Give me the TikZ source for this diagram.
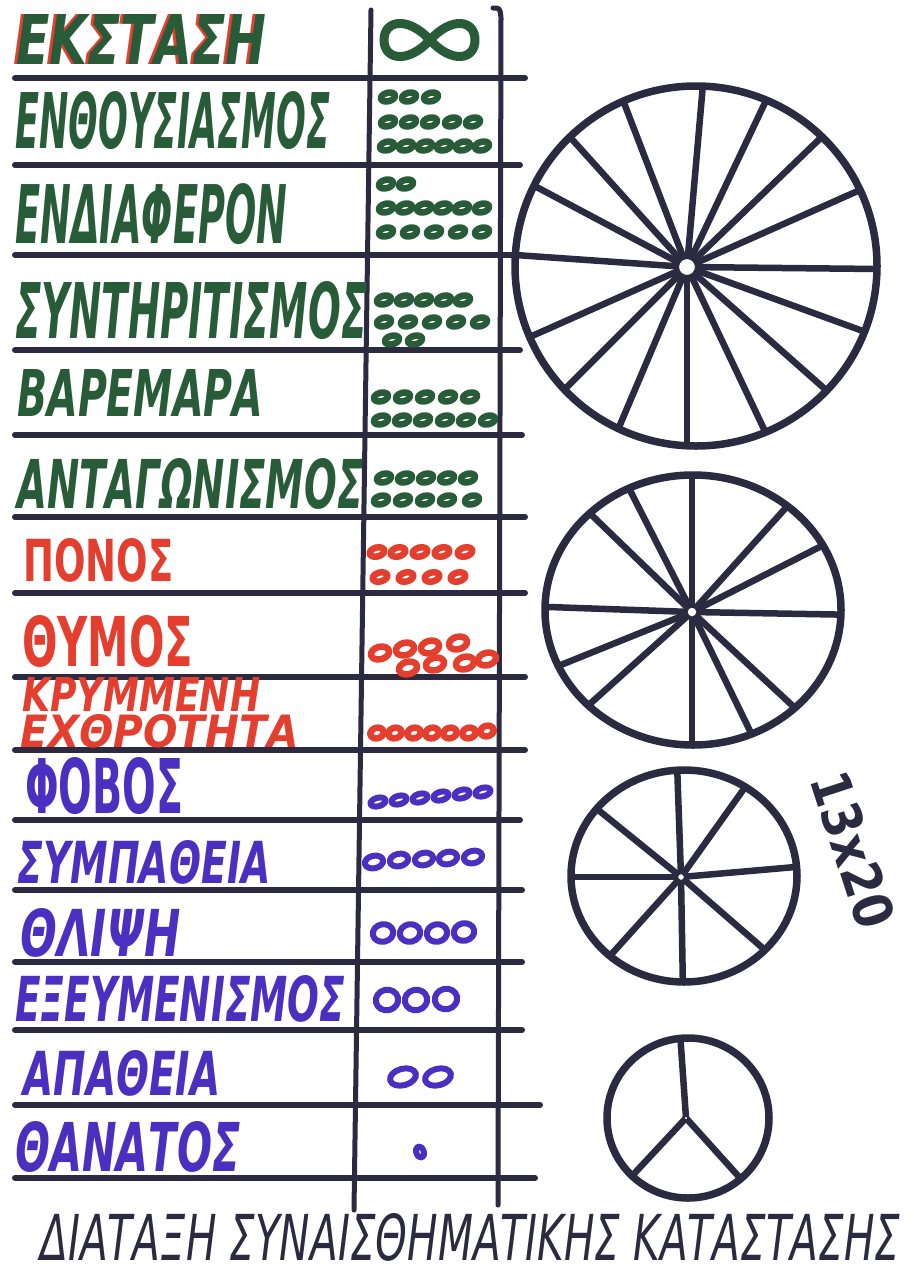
\documentclass[tikz,border=0pt]{standalone}
\usepackage{fontspec}
\usepackage{graphicx}
\setmainfont{DejaVu Sans}
\definecolor{ink}{RGB}{44,42,64}
\definecolor{mgreen}{RGB}{40,92,56}
\definecolor{mred}{RGB}{228,62,46}
\definecolor{mblue}{RGB}{74,48,192}
\begin{document}
\begin{tikzpicture}[x=0.2mm,y=-0.2mm,line cap=round,line join=round,
  rulel/.style={draw=ink,line width=1.2mm},
  vline/.style={draw=ink,line width=1mm},
  lab/.style={anchor=south west,inner sep=0pt,font=\bfseries},
  rim/.style={draw=ink,line width=1.5mm},
  spoke/.style={draw=ink,line width=1.3mm,line cap=butt},
  hub/.style={draw=ink,fill=white,line width=1.2pt},
  gov/.style={draw=mgreen,line width=1.3mm},
  rov/.style={draw=mred,line width=1.3mm},
  bov/.style={draw=mblue,line width=1.2mm}]
\fill[white] (0,0) rectangle (914,1270);
\useasboundingbox (0,0) rectangle (914,1270);

% horizontal rules
\foreach \yy/\xe in {78/525,165/520,255/520,350/520,435/522,517/525,593/525,677/525,750/525,820/520,890/522,962/522,1030/522,1105/540,1178/535}
  \draw[rulel] (15,\yy) -- (\xe,\yy);
% vertical rules
\draw[vline] (371,10) -- (354,1210);
\draw[vline] (493,8) .. controls (500,8) .. (501,18) -- (498,1205);

% labels
\node[lab,text=mred] (l1r) at (13,65) {\resizebox{50mm}{10mm}{\itshape ΕΚΣΤΑΣΗ}};
\node[lab,text=mgreen] (l1) at (16,65) {\resizebox{50mm}{10mm}{\itshape ΕΚΣΤΑΣΗ}};
\node[lab,text=mgreen] (l2) at (15,150) {\resizebox{63mm}{11.4mm}{\itshape ΕΝΘΟΥΣΙΑΣΜΟΣ}};
\node[lab,text=mgreen] (l3) at (15,245) {\resizebox{54.4mm}{12mm}{\itshape ΕΝΔΙΑΦΕΡΟΝ}};
\node[lab,text=mgreen] (l4) at (15,340) {\resizebox{70.4mm}{11.4mm}{\itshape ΣΥΝΤΗΡΙΤΙΣΜΟΣ}};
\node[lab,text=mgreen] (l5) at (17,417) {\resizebox{49.2mm}{9.4mm}{\itshape ΒΑΡΕΜΑΡΑ}};
\node[lab,text=mgreen] (l6) at (17,510) {\resizebox{69.2mm}{10mm}{\itshape ΑΝΤΑΓΩΝΙΣΜΟΣ}};
\node[lab,text=mred] (l7) at (23,583) {\resizebox{30mm}{8.6mm}{ΠΟΝΟΣ}};
\node[lab,text=mred] (l8) at (22,668) {\resizebox{34.2mm}{10.2mm}{ΘΥΜΟΣ}};
\node[lab,text=mred] (l9a) at (22,712) {\resizebox{47.6mm}{6.8mm}{\itshape ΚΡΥΜΜΕΝΗ}};
\node[lab,text=mred] (l9b) at (20,748) {\resizebox{55.6mm}{6.6mm}{\itshape ΕΧΘΡΟΤΗΤΑ}};
\node[lab,text=mblue] (l10) at (25,815) {\resizebox{31.6mm}{11.2mm}{ΦΟΒΟΣ}};
\node[lab,text=mblue] (l11) at (17,885) {\resizebox{50.6mm}{8.6mm}{\itshape ΣΥΜΠΑΘΕΙΑ}};
\node[lab,text=mblue] (l12) at (20,958) {\resizebox{32mm}{9.6mm}{\itshape ΘΛΙΨΗ}};
\node[lab,text=mblue] (l13) at (15,1023) {\resizebox{66mm}{9.2mm}{\itshape ΕΞΕΥΜΕΝΙΣΜΟΣ}};
\node[lab,text=mblue] (l14) at (23,1097) {\resizebox{39.4mm}{9mm}{\itshape ΑΠΑΘΕΙΑ}};
\node[lab,text=mblue] (l15) at (15,1173) {\resizebox{45mm}{10mm}{\itshape ΘΑΝΑΤΟΣ}};
\node[anchor=south west,inner sep=0pt,text=ink] (title) at (40,1262) {\resizebox{172mm}{9.4mm}{\itshape ΔΙΑΤΑΞΗ ΣΥΝΑΙΣΘΗΜΑΤΙΚΗΣ ΚΑΤΑΣΤΑΣΗΣ}};
\node[inner sep=0pt,text=ink,rotate=-72] (dims) at (853,850) {\resizebox{32mm}{8mm}{\bfseries 13x20}};

% infinity
\draw[mgreen,line width=1.8mm] (430,40) .. controls (452,16) and (475,20) .. (475,40)
  .. controls (475,60) and (452,64) .. (430,40)
  .. controls (408,16) and (384,20) .. (384,40)
  .. controls (384,60) and (408,64) .. (430,40);

% green ovals
\foreach \px/\py in {388/97,409/97,431/97,
  388/122,409/122,430/122,452/122,473/122,
  387/146,406/146,425/146,444/146,463/146,482/146,
  386/184,406/184,
  386/208,405/208,424/208,443/208,462/208,482/208,
  386/232,410/232,434/232,458/232,482/232,
  384/300,404/300,424/300,444/300,463/300,
  384/322,408/322,432/322,456/322,480/322,
  392/340,415/340,
  381/397,403/397,425/397,448/397,470/397,
  381/420,402/420,423/420,445/420,466/420,488/420,
  384/478,405/478,426/478,447/478,468/478,
  381/500,403/500,425/500,447/500,472/500}
  \draw[gov,shift={(\px,\py)},rotate=15] (0,0) ellipse [x radius=1.45mm,y radius=0.85mm];
% red ovals
\foreach \px/\py in {377/552,398/552,420/552,442/552,465/552,
  380/577,406/577,432/577,458/577}
  \draw[rov,shift={(\px,\py)},rotate=15] (0,0) ellipse [x radius=1.5mm,y radius=0.9mm];
\foreach \px/\py in {380/653,405/649,430/647,458/643,408/668,435/664,465/663,487/659}
  \draw[rov,shift={(\px,\py)},rotate=15] (0,0) ellipse [x radius=1.85mm,y radius=1.25mm];
\foreach \px/\py in {377/733,395/733,414/733,432/733,450/733,469/733,487/731}
  \draw[rov,shift={(\px,\py)},rotate=15] (0,0) ellipse [x radius=1.35mm,y radius=1.05mm];
% blue ovals
\foreach \px/\py in {378/802,399/800,420/798,441/796,462/794,483/792}
  \draw[bov,shift={(\px,\py)},rotate=15] (0,0) ellipse [x radius=1.55mm,y radius=0.85mm];
\foreach \px/\py in {374/862,399/860,424/859,448/858,473/857}
  \draw[bov,shift={(\px,\py)},rotate=12] (0,0) ellipse [x radius=1.85mm,y radius=1.25mm];
\foreach \px/\py in {383/933,410/933,437/933,464/932}
  \draw[bov,shift={(\px,\py)},rotate=12] (0,0) ellipse [x radius=2.05mm,y radius=1.75mm];
\foreach \px/\py in {387/1000,416/1000,446/999}
  \draw[bov,shift={(\px,\py)},rotate=12] (0,0) ellipse [x radius=2.25mm,y radius=2.05mm];
\foreach \px/\py in {403/1077,438/1077}
  \draw[bov,shift={(\px,\py)},rotate=15] (0,0) ellipse [x radius=2.65mm,y radius=1.65mm];
\draw[bov,shift={(420,1152)},rotate=20] (0,0) ellipse [x radius=0.75mm,y radius=1.15mm];

% wheel 1
\coordinate (c1) at (696,266);
\coordinate (h1) at (687,267);
\begin{scope}
  \clip (c1) ellipse [x radius=36.2mm,y radius=36mm];
  \foreach \a in {-85,-64.6,-44,-24,0.6,20,41.5,64.6,90,113,135,156,184,208,228,249}
    \draw[spoke] (h1) -- ++(\a:400);
\end{scope}
\draw[rim] (c1) ellipse [x radius=36.2mm,y radius=36mm];
\draw[hub] (h1) circle [radius=1.8mm];

% wheel 2
\coordinate (c2) at (693,610);
\coordinate (h2) at (692,612);
\begin{scope}
  \clip (c2) ellipse [x radius=29.6mm,y radius=27mm];
  \foreach \a in {-90,-48,-27,1,43,64,90,138,158,182,224,243}
    \draw[spoke] (h2) -- ++(\a:400);
\end{scope}
\draw[rim] (c2) ellipse [x radius=29.6mm,y radius=27mm];
\draw[hub] (h2) circle [radius=1.1mm];

% wheel 3
\coordinate (c3) at (684,876);
\coordinate (h3) at (681,877);
\begin{scope}
  \clip (c3) ellipse [x radius=22.6mm,y radius=21.2mm];
  \foreach \a in {-92,-54.5,-5,41,89,132,180,219}
    \draw[spoke] (h3) -- ++(\a:400);
\end{scope}
\draw[rim] (c3) ellipse [x radius=22.6mm,y radius=21.2mm];
\draw[hub] (h3) circle [radius=0.8mm];

% wheel 4
\coordinate (c4) at (688,1118);
\coordinate (h4) at (686,1118);
\begin{scope}
  \clip (c4) ellipse [x radius=16.2mm,y radius=16mm];
  \foreach \a in {-94,48,133}
    \draw[spoke] (h4) -- ++(\a:400);
\end{scope}
\draw[rim] (c4) ellipse [x radius=16.2mm,y radius=16mm];
\draw[hub] (h4) circle [radius=0.45mm];
\end{tikzpicture}
\end{document}
